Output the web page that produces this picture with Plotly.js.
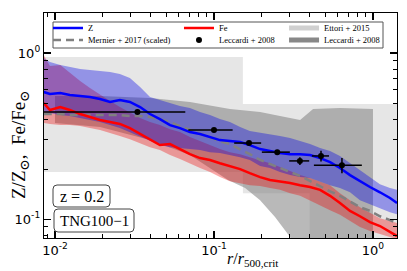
<!DOCTYPE html>
<html><head><meta charset="utf-8">
<script src="https://cdn.plot.ly/plotly-3.0.1.min.js"></script>
<style>html,body{margin:0;padding:0;background:#fff;}#c{width:407px;height:271px;}</style>
</head><body><div id="c"></div>
<script>
// ---- data ----
var rGrid = [0.0085,0.0093,0.0108,0.0124,0.0144,0.0166,0.0192,0.0222,0.0256,0.0296,0.0343,0.0396,0.0457,0.0529,0.0611,0.0706,0.0817,0.0944,0.109,0.126,0.146,0.168,0.195,0.225,0.26,0.301,0.348,0.402,0.465,0.537,0.62,0.717,0.828,0.957,1.106,1.279,1.416];
var zMed = [0.582,0.566,0.574,0.558,0.551,0.543,0.528,0.507,0.521,0.507,0.473,0.429,0.400,0.368,0.353,0.334,0.325,0.312,0.299,0.295,0.291,0.279,0.264,0.257,0.250,0.246,0.246,0.243,0.233,0.220,0.203,0.184,0.169,0.156,0.145,0.134,0.125];
var zHi  = [0.933,0.883,0.847,0.824,0.801,0.790,0.779,0.768,0.747,0.707,0.624,0.543,0.521,0.500,0.480,0.466,0.441,0.423,0.400,0.384,0.358,0.339,0.330,0.321,0.316,0.308,0.295,0.283,0.268,0.257,0.240,0.217,0.197,0.177,0.162,0.154,0.150];
var zLo  = [0.441,0.435,0.423,0.417,0.406,0.395,0.384,0.368,0.353,0.334,0.312,0.295,0.279,0.271,0.268,0.264,0.261,0.253,0.250,0.243,0.236,0.227,0.209,0.203,0.192,0.184,0.179,0.177,0.169,0.160,0.154,0.145,0.130,0.123,0.116,0.110,0.107];
var feMed = [0.500,0.454,0.473,0.454,0.429,0.412,0.395,0.384,0.374,0.353,0.325,0.299,0.279,0.283,0.264,0.246,0.233,0.227,0.217,0.209,0.200,0.189,0.179,0.172,0.169,0.165,0.160,0.156,0.150,0.138,0.125,0.112,0.104,0.0959,0.0908,0.0835,0.0790];
var feHi  = [0.973,0.835,0.847,0.758,0.678,0.615,0.559,0.514,0.473,0.441,0.406,0.384,0.368,0.348,0.334,0.312,0.295,0.279,0.264,0.253,0.246,0.236,0.227,0.217,0.206,0.195,0.184,0.177,0.169,0.160,0.143,0.130,0.118,0.109,0.101,0.0973,0.0946];
var feLo  = [0.379,0.374,0.368,0.368,0.363,0.353,0.344,0.330,0.316,0.303,0.287,0.271,0.261,0.243,0.230,0.217,0.203,0.192,0.179,0.169,0.165,0.160,0.158,0.154,0.150,0.143,0.138,0.130,0.121,0.113,0.106,0.0973,0.0895,0.0847,0.0812,0.078,0.0757];
var mernier = [0.429,0.429,0.429,0.423,0.423,0.423,0.423,0.423,0.423,0.417,0.417,0.412,0.400,0.384,0.363,0.344,0.325,0.308,0.295,0.283,0.264,0.246,0.227,0.214,0.203,0.192,0.182,0.169,0.158,0.147,0.138,0.127,0.118,0.112,0.104,0.0986,0.0946];

var lecR    = [0.033,0.1,0.166,0.25,0.347,0.471,0.638];
var lecRerr = [0.033,0.031,0.032,0.05,0.05,0.058,0.213];
var lecZ    = [0.441,0.344,0.287,0.253,0.224,0.240,0.211];
var lecZerr = [0.005,0.005,0.005,0.007,0.012,0.018,0.022];

var lecBandUpR = [0.01,0.0192,0.0396,0.0706,0.126,0.195,0.26,0.348,0.42,0.62,1.0];
var lecBandUpV = [0.551,0.551,0.536,0.507,0.460,0.441,0.417,0.395,0.460,0.466,0.460];
var lecBandLoR = [0.01,0.0192,0.0396,0.0706,0.1225,0.157,0.195,0.242,0.301,0.348,1.0];
var lecBandLoV = [0.379,0.358,0.299,0.243,0.172,0.154,0.130,0.103,0.078,0.05,0.05];

var ettRlo = [0.005,0.152,0.40];
var ettRhi = [0.152,0.40,3.0];
var ettLo  = [0.192,0.143,0.04];
var ettHi  = [0.946,0.493,0.493];

// ---- build polygons ----
function band(x, lo, hi){
  return {x: x.concat(x.slice().reverse()), y: hi.concat(lo.slice().reverse())};
}
var ex=[], ey=[];
for (var i=0;i<ettRlo.length;i++){
  ex.push(ettRlo[i],ettRhi[i],ettRhi[i],ettRlo[i],ettRlo[i],null);
  ey.push(ettLo[i],ettLo[i],ettHi[i],ettHi[i],ettLo[i],null);
}
var lb = {x: lecBandUpR.concat(lecBandLoR.slice().reverse()), y: lecBandUpV.concat(lecBandLoV.slice().reverse())};
var zb = band(rGrid, zLo, zHi);
var fb = band(rGrid, feLo, feHi);

var serif = "Liberation Serif, DejaVu Serif, serif";
var traces = [
  {x: ex, y: ey, mode:'lines', fill:'toself', fillcolor:'rgba(200,200,200,0.45)', line:{width:0}, showlegend:false, hoverinfo:'skip'},
  {x: lb.x, y: lb.y, mode:'lines', fill:'toself', fillcolor:'rgba(128,128,128,0.55)', line:{width:0}, showlegend:false, hoverinfo:'skip'},
  {x: fb.x, y: fb.y, mode:'lines', fill:'toself', fillcolor:'rgba(240,0,0,0.34)', line:{width:0}, showlegend:false, hoverinfo:'skip'},
  {x: zb.x, y: zb.y, mode:'lines', fill:'toself', fillcolor:'rgba(0,0,230,0.36)', line:{width:0}, showlegend:false, hoverinfo:'skip'},
  {x: rGrid, y: mernier, mode:'lines', name:'Mernier + 2017 (scaled)', line:{color:'#808080', width:2.5, dash:'8px,5px'}, legend:'legend2'},
  {x: rGrid, y: feMed, mode:'lines', name:'Fe', line:{color:'#ff0000', width:2.5}, legend:'legend3'},
  {x: rGrid, y: zMed, mode:'lines', name:'Z', line:{color:'#0000ff', width:2.5}, legend:'legend'},
  {x: lecR, y: lecZ, mode:'markers', name:'Leccardi + 2008', marker:{color:'#000', size:6},
   error_x:{type:'data', array:lecRerr, color:'#000', thickness:1.5, width:0},
   error_y:{type:'data', array:lecZerr, color:'#000', thickness:1.5, width:0}, legend:'legend4'},
  {x:[null], y:[null], mode:'lines', name:'Ettori + 2015', line:{color:'#d0d0d0', width:5}, legend:'legend5'},
  {x:[null], y:[null], mode:'lines', name:'Leccardi + 2008', line:{color:'#888888', width:5}, legend:'legend6'}
];

function leg(x,y){
  return {x:x, y:y, xanchor:'left', yanchor:'middle', bgcolor:'rgba(0,0,0,0)', borderwidth:0,
          font:{family:serif, size:8.5, color:'#000'}, itemwidth:30};
}
// rounded box (pixel geometry of the frame -> paper coords)
var L=44, T=13, W=353, H=225;
function px(x){return (x-L)/W;} function py(y){return (T+H-y)/H;}
function rbox(x0,y0,x1,y1,r){
  var p='M'+px(x0+r)+','+py(y0)+' L'+px(x1-r)+','+py(y0)+' Q'+px(x1)+','+py(y0)+' '+px(x1)+','+py(y0+r)+
        ' L'+px(x1)+','+py(y1-r)+' Q'+px(x1)+','+py(y1)+' '+px(x1-r)+','+py(y1)+
        ' L'+px(x0+r)+','+py(y1)+' Q'+px(x0)+','+py(y1)+' '+px(x0)+','+py(y1-r)+
        ' L'+px(x0)+','+py(y0+r)+' Q'+px(x0)+','+py(y0)+' '+px(x0+r)+','+py(y0)+' Z';
  return {type:'path', xref:'paper', yref:'paper', path:p, line:{color:'#444', width:1}, fillcolor:'rgba(255,255,255,0)', layer:'above'};
}
var minorX = [0.009,0.02,0.03,0.04,0.05,0.06,0.07,0.08,0.09,0.2,0.3,0.4,0.5,0.6,0.7,0.8,0.9];
var minorY = [0.08,0.09,0.2,0.3,0.4,0.5,0.6,0.7,0.8,0.9];
var axisCommon = {type:'log', showgrid:false, zeroline:false, showline:true, linecolor:'#000', linewidth:1.2,
  mirror:'ticks', ticks:'inside', ticklen:7, tickwidth:1.1, tickcolor:'#000',
  tickfont:{family:'DejaVu Sans, sans-serif', size:13, color:'#000'}};
var layout = {
  width:407, height:271,
  margin:{l:44, r:10, t:13, b:33},
  paper_bgcolor:'#fff', plot_bgcolor:'#fff',
  xaxis: Object.assign({}, axisCommon, {range:[-2.069,0.151], tickmode:'array', tickvals:[0.01,0.1,1],
     ticktext:['10<sup>-2</sup>','10<sup>-1</sup>','10<sup>0</sup>'],
     minor:{tickmode:'array', tickvals:minorX, ticks:'inside', ticklen:4, tickwidth:1, tickcolor:'#000'}}),
  yaxis: Object.assign({}, axisCommon, {range:[-1.114,0.241], tickmode:'array', tickvals:[0.1,1],
     ticktext:['10<sup>-1</sup>','10<sup>0</sup>'],
     minor:{tickmode:'array', tickvals:minorY, ticks:'inside', ticklen:4, tickwidth:1, tickcolor:'#000'}}),
  legend: leg(0.0113,0.9333), legend2: leg(0.0113,0.88),
  legend3: leg(0.3824,0.9333), legend4: leg(0.3824,0.88),
  legend5: leg(0.680,0.9333), legend6: leg(0.680,0.88),
  shapes:[{type:'rect', xref:'paper', yref:'paper', x0:px(53), x1:px(383), y0:py(48), y1:py(22),
           line:{color:'#555', width:1}, fillcolor:'rgba(255,255,255,1)', layer:'below'},
          rbox(53,185,110,207,4), rbox(54,209,134,232,4)],
  annotations:[
    {xref:'paper', yref:'paper', x:px(81.5), y:py(196), xanchor:'center', yanchor:'middle', showarrow:false,
     text:'z = 0.2', font:{family:serif, size:16, color:'#000'}},
    {xref:'paper', yref:'paper', x:px(94), y:py(220.5), xanchor:'center', yanchor:'middle', showarrow:false,
     text:'TNG100\u22121', font:{family:serif, size:15, color:'#000'}},
    {xref:'paper', yref:'paper', x:px(253), y:py(259), xanchor:'center', yanchor:'middle', showarrow:false,
     text:'<i>r</i>/<i>r</i><sub>500,crit</sub>', font:{family:serif, size:16, color:'#000'}},
    {xref:'paper', yref:'paper', x:px(20), y:py(145), xanchor:'center', yanchor:'middle', showarrow:false, textangle:-90,
     text:'Z/Z<sub>\u2299</sub>,  Fe/Fe<sub>\u2299</sub>', font:{family:serif, size:19, color:'#000'}}
  ]
};
Plotly.newPlot('c', traces, layout, {staticPlot:true, displayModeBar:false});
</script></body></html>
